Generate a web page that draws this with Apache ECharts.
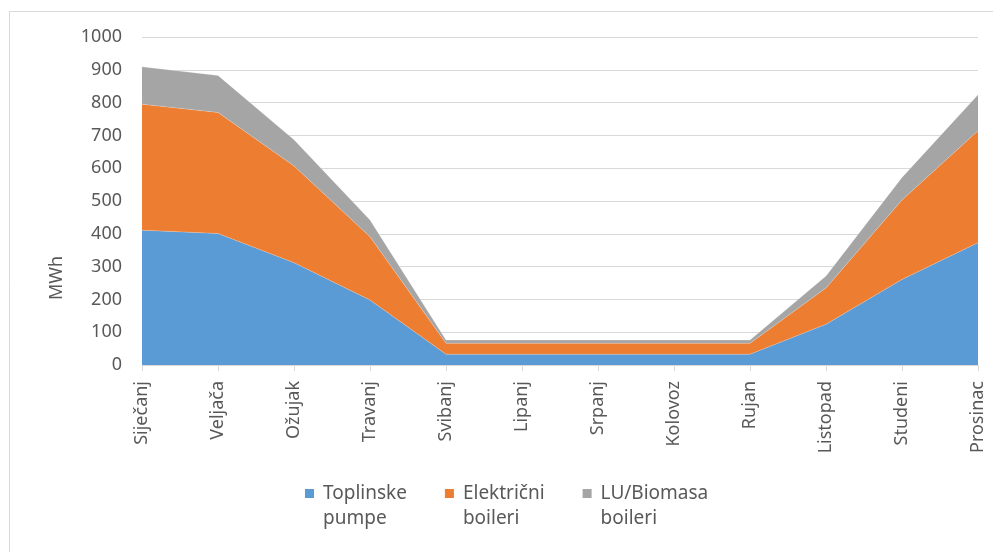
<!DOCTYPE html>
<html>
<head>
<meta charset="utf-8">
<style>
  html, body { margin: 0; padding: 0; background: #fff; }
  #chart { width: 993px; height: 552px; }
</style>
<script src="https://cdn.jsdelivr.net/npm/echarts@6/dist/echarts.min.js"></script>
</head>
<body>
<div id="chart"></div>
<script>
// Monthly heat production by source (MWh), stacked
const months = ['Siječanj', 'Veljača', 'Ožujak', 'Travanj', 'Svibanj', 'Lipanj',
                'Srpanj', 'Kolovoz', 'Rujan', 'Listopad', 'Studeni', 'Prosinac'];
const heatPumps = [411, 401, 312, 198, 33, 33, 33, 33, 33, 124, 261, 373];
const electricBoilers = [384, 369, 295, 193, 33, 33, 33, 33, 33, 111, 242, 341];
const biomassBoilers = [114, 113, 80, 51, 10, 10, 10, 10, 10, 36, 69, 110];
const seriesNames = ['Toplinske\npumpe', 'Električni\nboileri', 'LU/Biomasa\nboileri'];
const colors = ['#5B9BD5', '#ED7D31', '#A5A5A5'];
const yTicks = { min: 0, max: 1000, step: 100 };

const textColor = '#595959';
const font = 'Noto Sans';

// square swatch in the top of a taller box so it lines up with the first text line
const legendIcon = 'path://M0,0L9,0L9,9L0,9Z M13,34L13,34';

function areaSeries(name, data, color) {
  return {
    name: name,
    type: 'line',
    stack: 'total',
    data: data,
    symbol: 'none',
    itemStyle: { color: color },
    lineStyle: { width: 0.6, color: 'rgba(255,255,255,0.35)' },
    areaStyle: { color: color, opacity: 1 },
    emphasis: { disabled: true }
  };
}

const chart = echarts.init(document.getElementById('chart'));
chart.setOption({
  animation: false,
  backgroundColor: '#fff',
  textStyle: { fontFamily: font, color: textColor },
  grid: { left: 142, right: 15, top: 37, bottom: 187 },
  xAxis: {
    type: 'category',
    data: months,
    boundaryGap: false,
    axisLine: { lineStyle: { color: '#D9D9D9', width: 1 } },
    axisTick: { show: true, length: 6, lineStyle: { color: '#D9D9D9' }, alignWithLabel: true },
    axisLabel: { rotate: 90, margin: 16, fontSize: 18, color: textColor, fontFamily: font, interval: 0 }
  },
  yAxis: {
    type: 'value',
    min: yTicks.min,
    max: yTicks.max,
    interval: yTicks.step,
    axisLine: { show: false },
    axisTick: { show: false },
    axisLabel: { margin: 20, fontSize: 18, color: textColor, fontFamily: font, formatter: v => String(v) },
    splitLine: { lineStyle: { color: '#D9D9D9', width: 1 } }
  },
  legend: {
    data: seriesNames,
    left: 305,
    top: 481,
    padding: 0,
    icon: legendIcon,
    itemWidth: 13,
    itemHeight: 34,
    itemGap: 38,
    textStyle: { fontSize: 19, lineHeight: 25, color: textColor, fontFamily: font }
  },
  graphic: [
    {
      type: 'rect',
      silent: true,
      shape: { x: 9.5, y: 11.5, width: 1100, height: 700 },
      style: { fill: 'none', stroke: '#D9D9D9', lineWidth: 1 }
    },
    {
      type: 'text',
      silent: true,
      x: 57,
      y: 278,
      rotation: Math.PI / 2,
      style: {
        text: 'MWh',
        fontSize: 18,
        fontFamily: font,
        fill: textColor,
        align: 'center',
        verticalAlign: 'middle'
      }
    }
  ],
  series: [
    areaSeries(seriesNames[0], heatPumps, colors[0]),
    areaSeries(seriesNames[1], electricBoilers, colors[1]),
    areaSeries(seriesNames[2], biomassBoilers, colors[2])
  ]
});
</script>
</body>
</html>
